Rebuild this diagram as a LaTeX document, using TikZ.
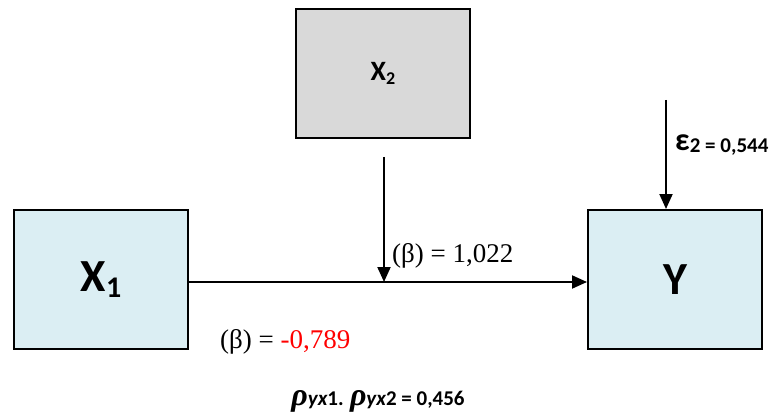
\documentclass[tikz,border=0pt]{standalone}
\usepackage{fontspec}
\newfontfamily\carlitofont{Carlito}
\newfontfamily\timesfont{Liberation Serif}
\usetikzlibrary{arrows.meta}
\definecolor{lightblue}{RGB}{219,238,243}
\definecolor{lightgrey}{RGB}{217,217,217}
\tikzset{
  box/.style={draw=black, line width=2pt, minimum width=174pt, minimum height=139pt, inner sep=0pt},
  lightbox/.style={box, fill=lightblue},
  greybox/.style={box, fill=lightgrey, minimum height=129pt},
  conn/.style={line width=2pt, -{Triangle[length=15pt,width=13pt]}},
}
\newcommand{\rhosym}{{\timesfont\bfseries\itshape\fontsize{32}{34}\selectfont ρ}}
\begin{document}
\begin{tikzpicture}[x=1pt,y=-1pt]
\useasboundingbox (0,0) rectangle (773,414);
\node[lightbox] (x1) at (101,279.5) {\carlitofont\bfseries\fontsize{46}{50}\selectfont X\raisebox{-0.25ex}{\fontsize{30}{34}\selectfont 1}};
\node[greybox] (x2) at (383,73.5) {\carlitofont\bfseries\fontsize{28}{32}\selectfont X\raisebox{-0.25ex}{\fontsize{18}{21}\selectfont 2}};
\node[lightbox] (y) at (675,279.5) {\carlitofont\bfseries\fontsize{46}{50}\selectfont Y};
\coordinate (mid) at (384,282);
\coordinate (x2s) at (384,157);
\coordinate (es) at (666,100);
\draw[conn] (x1.east |- mid) -- (y.west |- mid);
\draw[conn] (x2s) -- (mid);
\draw[conn] (es) -- (es |- y.north);
\node[anchor=base west, inner sep=0pt] (b1) at (392,262) {\timesfont\fontsize{27}{30}\selectfont (β) = 1,022};
\node[anchor=base west, inner sep=0pt] (b2) at (220,348) {\timesfont\fontsize{27}{30}\selectfont (β) = \textcolor{red}{-0,789}};
\node[anchor=base west, inner sep=0pt] (eps) at (675,151) {\carlitofont\bfseries\fontsize{32}{34}\selectfont ε\raisebox{-0.12ex}{\fontsize{21}{24}\selectfont 2 = 0,544}};
\node[anchor=base, inner sep=0pt] (rho) at (378,405) {\carlitofont\bfseries\fontsize{21}{26}\selectfont\rhosym{\itshape yx}1. \rhosym{\itshape yx}2 = 0,456};
\end{tikzpicture}
\end{document}
